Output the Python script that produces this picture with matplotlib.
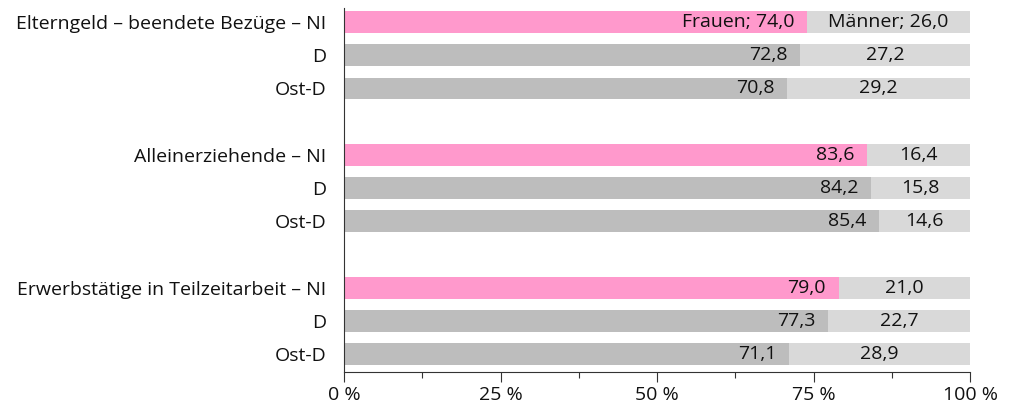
import matplotlib.pyplot as plt
from matplotlib.ticker import MultipleLocator, FuncFormatter

plt.rcParams['font.family'] = ['Open Sans', 'DejaVu Sans']

labels = ["Elterngeld – beendete Bezüge – NI", "D", "Ost-D",
          "Alleinerziehende – NI", "D", "Ost-D",
          "Erwerbstätige in Teilzeitarbeit – NI", "D", "Ost-D"]
frauen = [74.0, 72.8, 70.8, 83.6, 84.2, 85.4, 79.0, 77.3, 71.1]
maenner = [26.0, 27.2, 29.2, 16.4, 15.8, 14.6, 21.0, 22.7, 28.9]
is_ni = [True, False, False, True, False, False, True, False, False]

positions = [0, 1, 2, 4, 5, 6, 8, 9, 10]

pink = "#FF99CC"
grey_dark = "#BDBDBD"
grey_light = "#D9D9D9"
txt_color = "#111111"
fs = 14

def fmt(v):
    return f"{v:.1f}".replace(".", ",")

fig = plt.figure(figsize=(10.12, 4.07), dpi=100)
ax = fig.add_axes([0.34, 0.086, 0.6185, 0.894])

h = 0.66
for i, (p, f, m, ni) in enumerate(zip(positions, frauen, maenner, is_ni)):
    ax.barh(p, f, height=h, color=pink if ni else grey_dark, linewidth=0)
    ax.barh(p, m, left=f, height=h, color=grey_light, linewidth=0)
    ftxt = f"Frauen; {fmt(f)}" if i == 0 else fmt(f)
    mtxt = f"Männer; {fmt(m)}" if i == 0 else fmt(m)
    ax.text(f - 2.0, p, ftxt, ha="right", va="center", fontsize=fs, color=txt_color)
    ax.text(f + m / 2, p, mtxt, ha="center", va="center", fontsize=fs, color=txt_color)

ax.set_xlim(0, 100)
ax.set_ylim(10.54, -0.42)
ax.set_yticks(positions)
ax.set_yticklabels(labels, fontsize=fs, color=txt_color)
ax.tick_params(axis="y", length=0, pad=13)

ax.xaxis.set_major_locator(MultipleLocator(25))
ax.xaxis.set_minor_locator(MultipleLocator(12.5))
ax.xaxis.set_major_formatter(FuncFormatter(lambda v, _: f"{int(v)} %"))
ax.tick_params(axis="x", which="major", length=7, width=0.8, color="#333333",
               labelsize=fs, labelcolor=txt_color, pad=3)
ax.tick_params(axis="x", which="minor", length=4, width=0.8, color="#333333")

for s in ["top", "right"]:
    ax.spines[s].set_visible(False)
ax.spines["left"].set_color("#333333")
ax.spines["bottom"].set_color("#333333")
ax.spines["left"].set_linewidth(0.8)
ax.spines["bottom"].set_linewidth(0.8)

fig.savefig("out.png", dpi=100)
